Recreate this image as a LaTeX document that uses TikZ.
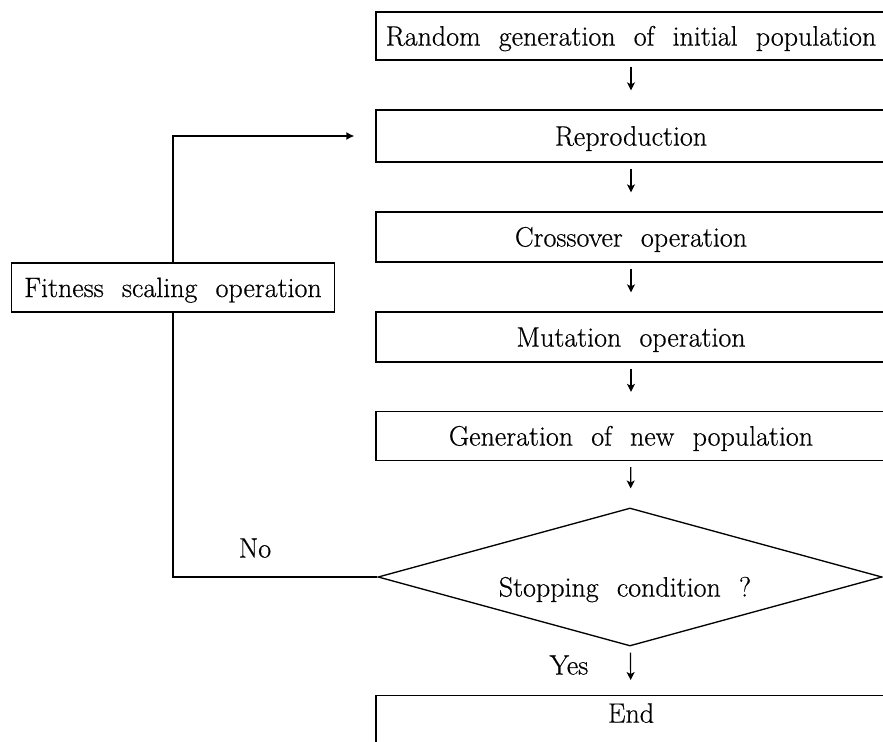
\documentclass[tikz,border=0pt]{standalone}
\usepackage{fontspec}
\setmainfont{Latin Modern Roman}[FakeBold=0.5]
\usetikzlibrary{shapes.geometric,arrows.meta}
\newdimen\pxu
\pxu=0.75pt
\tikzset{
  txt/.style={font={\fontsize{21}{25}\selectfont\spaceskip=0.65em plus 0.1em\relax}},
  stepbox/.style={txt,draw,line width=1pt,minimum width=510\pxu,minimum height=50\pxu,
    text height=14.3pt,text depth=0pt,inner sep=0pt},
  flow/.style={line width=0.9pt,-{Stealth[length=6pt,width=6pt,inset=1.5pt]},
    shorten <=6\pxu,shorten >=19\pxu},
  loopline/.style={line width=1pt},
}
\begin{document}
\begin{tikzpicture}[x=0.75pt,y=-0.75pt]
\useasboundingbox (0,0) rectangle (883,742);
\clip (0,0) rectangle (883,742);

\node[stepbox,minimum height=48\pxu] (init) at (631,36) {Random generation of initial population};
\node[stepbox,minimum height=52\pxu] (repro) at (631,136) {Reproduction};
\node[stepbox] (cross) at (631,237) {Crossover operation};
\node[stepbox] (mut) at (631,337) {Mutation operation};
\node[stepbox,minimum height=49\pxu] (gen) at (631,436) {Generation of new population};
\node[draw,diamond,line width=1pt,minimum width=504\pxu,minimum height=138\pxu,inner sep=0pt,
  label={[txt,name=stoptext,text height=14.3pt,text depth=0pt,xshift=-5\pxu,yshift=-10\pxu]center:Stopping condition ?}]
  (stop) at (630,577) {};
\node[stepbox,anchor=north,minimum height=0pt,text height=19\pxu,text depth=40\pxu,inner ysep=8\pxu]
  (endn) at (631,695) {End};
\node[stepbox,minimum width=323\pxu,minimum height=49\pxu] (fit) at (173,287.5) {Fitness scaling operation};

\node[txt,text height=14.3pt,text depth=0pt] (nolab) at (255,548) {No};
\node[txt,text height=14.3pt,text depth=0pt] (yeslab) at (569,665) {Yes};

\draw[flow] (init) -- (repro);
\draw[flow] (repro) -- (cross);
\draw[flow] (cross) -- (mut);
\draw[flow] (mut) -- (gen);
\draw[flow] (gen) -- (stop);
\draw[flow,shorten >=15\pxu] (stop) -- (endn);

\coordinate (loopend) at ([xshift=-21\pxu]repro.west);
\draw[loopline] (stop.west) -| (fit.south);
\draw[loopline,-{Latex[length=6pt,width=6pt]}] (fit.north) |- (loopend);
\end{tikzpicture}
\end{document}
